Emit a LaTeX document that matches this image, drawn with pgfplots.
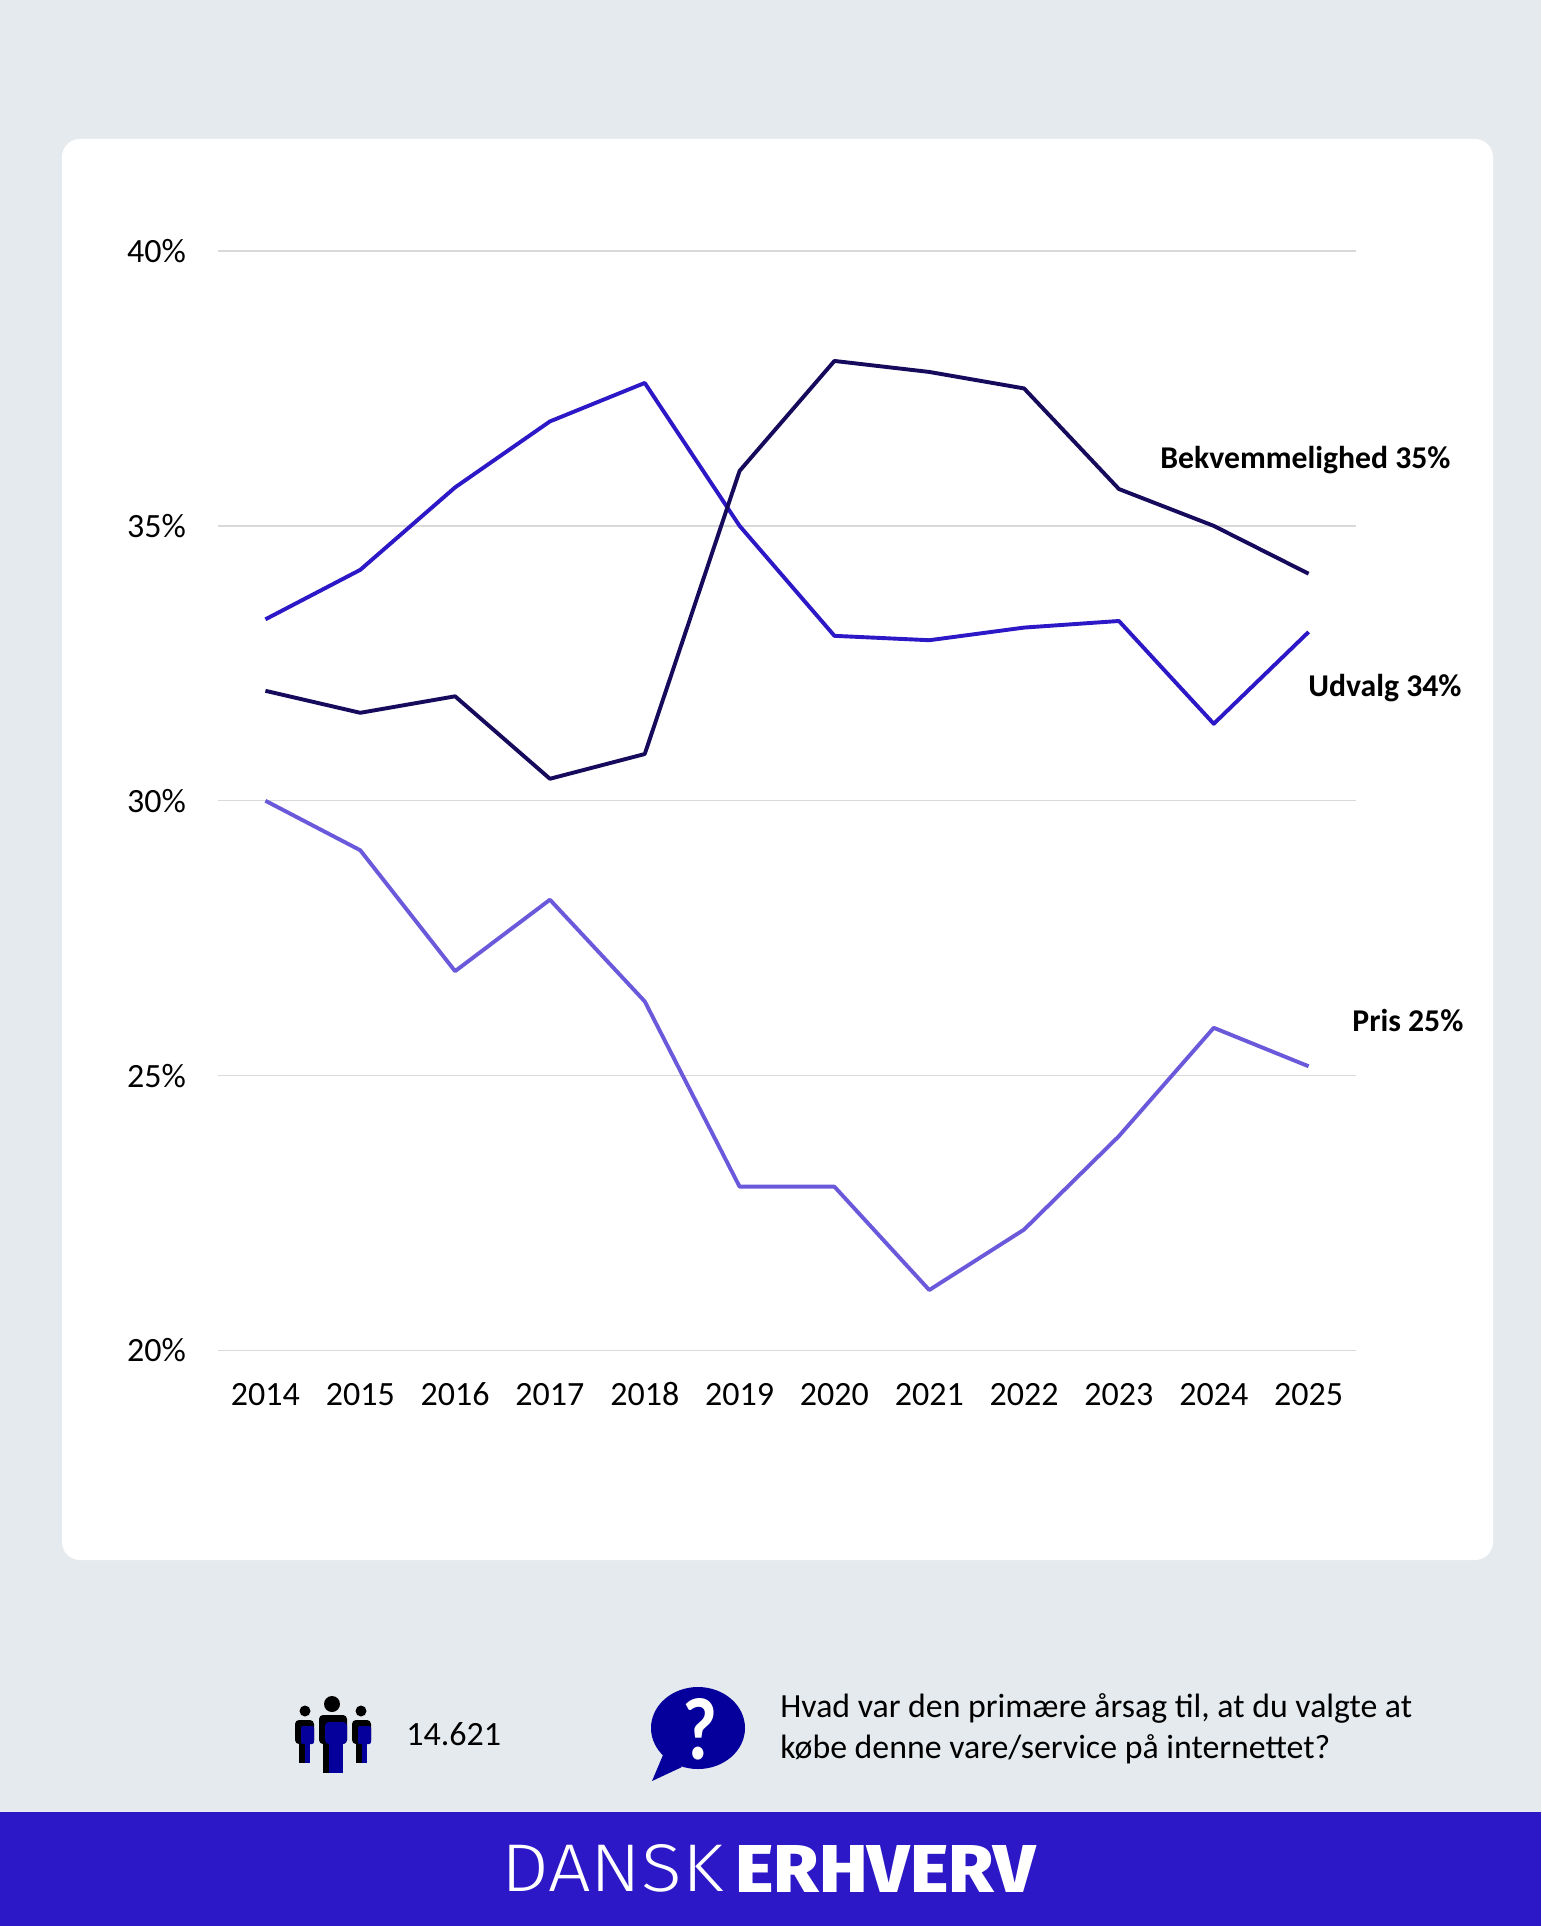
\documentclass[border=0pt]{standalone}
\usepackage{fontspec}
\setmainfont{Carlito}
\newfontfamily\logolight{Fira Sans Light}
\newfontfamily\logobold{Fira Sans}[BoldFont={Fira Sans ExtraBold}]
\usepackage{pgfplots}
\usepackage{pgfplotstable}
\pgfplotsset{compat=1.18}

\definecolor{pagebg}{HTML}{E5EAEE}
\definecolor{barblue}{HTML}{2C18C6}
\definecolor{navy}{HTML}{150A5C}
\definecolor{violet}{HTML}{6A5ADB}
\definecolor{iconblue}{HTML}{05009C}
\definecolor{gridgray}{HTML}{D9D9D9}

\pgfplotstableread{
year udvalg bekvem pris
0 33.30 32.00 30.00
1 34.20 31.60 29.10
2 35.70 31.90 26.90
3 36.90 30.40 28.20
4 37.60 30.85 26.35
5 35.00 36.00 22.98
6 33.00 38.00 22.98
7 32.92 37.80 21.10
8 33.15 37.50 22.20
9 33.27 35.67 23.90
10 31.40 35.00 25.87
11 33.07 34.13 25.17
}\shares

\begin{document}
\begin{tikzpicture}[x=0.5pt,y=-0.5pt]
% all positions in reference pixels
\useasboundingbox (0,0) rectangle (1541,1926);
\fill[pagebg] (0,0) rectangle (1541,1926);
\fill[white,rounded corners=9pt] (62,139) rectangle (1493,1560);
\fill[barblue] (0,1812) rectangle (1541,1926);

\begin{axis}[
    at={(109pt,-675.25pt)}, anchor=south west,
    scale only axis,
    width=569pt, height=549.75pt,
    xmin=-0.5, xmax=11.5,
    ymin=20, ymax=40,
    xtick={0,1,2,3,4,5,6,7,8,9,10,11},
    xticklabels={2014,2015,2016,2017,2018,2019,2020,2021,2022,2023,2024,2025},
    ytick={20,25,30,35,40},
    yticklabels={20\%,25\%,30\%,35\%,40\%},
    ymajorgrids,
    grid style={gridgray,line width=0.7pt},
    axis line style={draw=none},
    major tick length=0pt,
    tick label style={font=\fontsize{17}{20}\selectfont,black},
    xticklabel style={text height=12pt,text depth=0pt,yshift=-12pt},
    yticklabel style={xshift=-12.5pt},
    clip=false,
    every axis plot/.style={line width=1.95pt,line join=round,no markers},
]
\addplot[violet] table[x=year,y=pris] {\shares};
\addplot[barblue] table[x=year,y=udvalg] {\shares};
\addplot[navy] table[x=year,y=bekvem] {\shares};
\end{axis}

% series labels
\node[anchor=base west,inner sep=0,font=\fontsize{15.85}{20}\selectfont\bfseries] at (1160,468) {Bekvemmelighed 35\%};
\node[anchor=base west,inner sep=0,font=\fontsize{15.85}{20}\selectfont\bfseries] at (1308,696) {Udvalg 34\%};
\node[anchor=base west,inner sep=0,font=\fontsize{15.85}{20}\selectfont\bfseries] at (1352,1031) {Pris 25\%};

% people icon, black with a blue overlay
\fill[black] (332,1704) circle[radius=8] (305,1711) circle[radius=5.5] (361,1711) circle[radius=5.5];
\fill[black,rounded corners=2pt] (319,1744) -- (319,1715) -- (347,1715) -- (347,1744) -- cycle;
\fill[black] (323,1740) rectangle (343,1773);
\fill[black,rounded corners=2pt] (295,1744) -- (295,1720) -- (314,1720) -- (314,1744) -- cycle;
\fill[black] (299,1740) rectangle (310,1763);
\fill[black,rounded corners=2pt] (352,1744) -- (352,1720) -- (371,1720) -- (371,1744) -- cycle;
\fill[black] (356,1740) rectangle (367,1763);
\fill[iconblue,rounded corners=2pt] (325,1744) -- (325,1722) -- (347,1722) -- (347,1744) -- cycle;
\fill[iconblue] (329,1740) rectangle (343,1773);
\fill[iconblue,rounded corners=1pt] (301,1744) -- (301,1726) -- (314,1726) -- (314,1744) -- cycle;
\fill[iconblue] (305,1740) rectangle (310,1763);
\fill[iconblue,rounded corners=1pt] (358,1744) -- (358,1726) -- (371,1726) -- (371,1744) -- cycle;
\fill[iconblue] (362,1740) rectangle (367,1763);

\node[anchor=base west,inner sep=0,font=\fontsize{17}{20}\selectfont] at (406,1745) {14.621};

% question bubble
\fill[iconblue] (698,1728) ellipse[x radius=47,y radius=41];
\fill[iconblue] (663,1755) -- (652,1781) -- (682,1767) -- cycle;
\node[inner sep=0,white] at (699.5,1729.5) {\resizebox{17.5pt}{30.5pt}{\bfseries ?}};

\node[anchor=base west,inner sep=0,font=\fontsize{16.9}{20}\selectfont] at (780,1717) {Hvad var den primære årsag til, at du valgte at};
\node[anchor=base west,inner sep=0,font=\fontsize{16.9}{20}\selectfont] at (780,1758) {købe denne vare/service på internettet?};

% logo
\node[anchor=south west,inner sep=0,white] at (501,1893) {\resizebox{111pt}{23.5pt}{\logolight DANSK}};
\node[anchor=south west,inner sep=0,white] at (735,1893) {\resizebox{150pt}{23.5pt}{\logobold\bfseries ERHVERV}};
\end{tikzpicture}
\end{document}
